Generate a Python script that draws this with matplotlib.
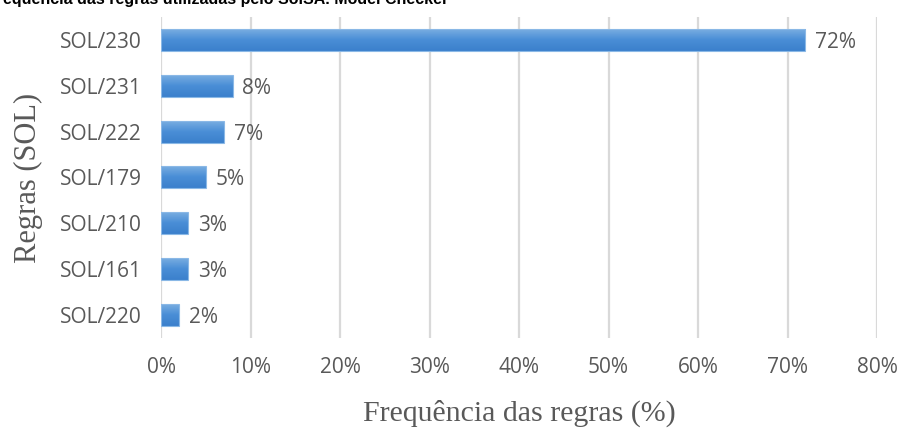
import numpy as np
import matplotlib.pyplot as plt
from matplotlib.ticker import PercentFormatter
from matplotlib.colors import LinearSegmentedColormap

# Rule frequencies (top to bottom)
regras = ["SOL/230", "SOL/231", "SOL/222", "SOL/179", "SOL/210", "SOL/161", "SOL/220"]
frequencias = [72, 8, 7, 5, 3, 3, 2]
xticks = [0, 10, 20, 30, 40, 50, 60, 70, 80]

titulo = "equência das regras utilizadas pelo SolSA. Model Checker"
xlabel = "Frequência das regras (%)"
ylabel = "Regras (SOL)"

fig = plt.figure(figsize=(9.01, 4.28), dpi=100)
ax = fig.add_axes([0.1787, 0.2103, 0.7947, 0.75])

pos = list(range(len(regras)))
bars = ax.barh(pos, frequencias, height=0.48, color="none",
               edgecolor="#8ab8e6", linewidth=0.8, zorder=4)

# vertical gradient fill, lighter at the top of each bar
grad = LinearSegmentedColormap.from_list("bar", ["#7db0e2", "#4a8ed6", "#3b80cc"])
for b in bars:
    x0, y0 = b.get_x(), b.get_y()
    w, h = b.get_width(), b.get_height()
    im = ax.imshow(np.linspace(1, 0, 64).reshape(-1, 1), cmap=grad, aspect="auto",
                   extent=(x0, x0 + w, y0, y0 + h), origin="upper", zorder=3)
    im.set_clip_path(b)

for p, v in zip(pos, frequencias):
    ax.text(v + 1.1, p, f"{v}%", va="center_baseline", ha="left",
            fontsize=15, color="#595959", family="Open Sans", zorder=5)

ax.set_ylim(len(regras) - 0.5, -0.5)
ax.set_xlim(0, 80)
ax.set_xticks(xticks)
ax.xaxis.set_major_formatter(PercentFormatter(decimals=0))
ax.set_yticks(pos)
ax.set_yticklabels(regras)

for lab in ax.get_xticklabels() + ax.get_yticklabels():
    lab.set_family("Open Sans")
    lab.set_fontsize(15)
    lab.set_color("#595959")

ax.tick_params(axis="both", length=0)
ax.tick_params(axis="x", pad=14)
ax.tick_params(axis="y", pad=14)

ax.grid(axis="x", color="#d9d9d9", linewidth=1.6, zorder=0)
ax.set_axisbelow(True)
for s in ax.spines.values():
    s.set_visible(False)

ax.set_xlabel(xlabel, family="Liberation Serif", fontsize=21.5, color="#595959", labelpad=15)
ax.set_ylabel(ylabel, family="Liberation Serif", fontsize=22, color="#595959", labelpad=12)

fig.text(0.003, 1 - 4 / 428, titulo, ha="left", va="baseline",
         fontsize=11.5, fontweight="bold", family="Liberation Sans", color="black")

fig.savefig("out.png", dpi=100)
